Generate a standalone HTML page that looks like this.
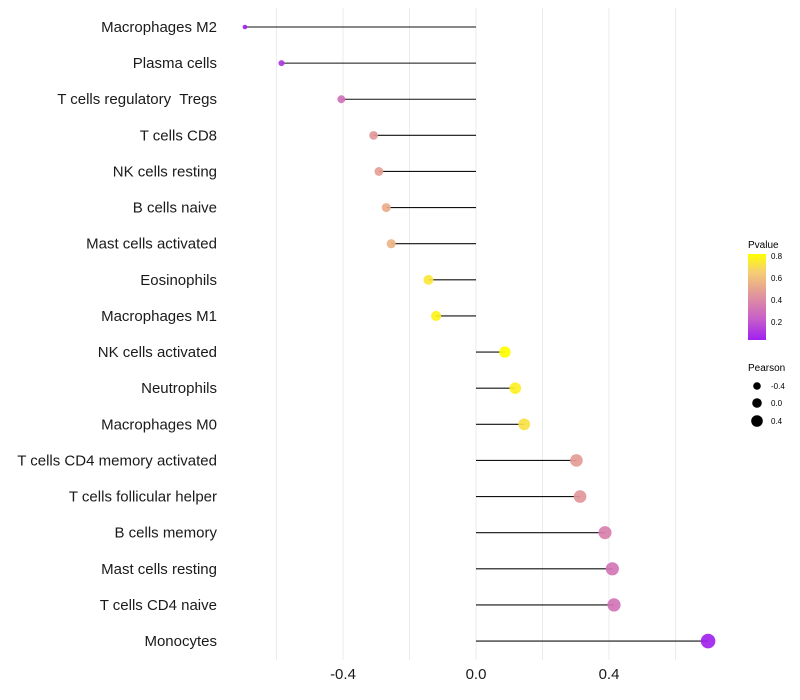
<!DOCTYPE html>
<html><head><meta charset="utf-8"><style>
html,body{margin:0;padding:0;background:#fff;width:800px;height:700px;overflow:hidden}
text{font-family:"Liberation Sans",sans-serif;white-space:pre}
</style></head><body>
<svg id="chart" width="800" height="700">
<g id="grid"></g>
<g id="stems"></g>
<g id="points"></g>
<g id="ylabels"></g>
<g id="xlabels"></g>
<g>
<defs><linearGradient id="pg" x1="0" y1="1" x2="0" y2="0">
<stop offset="0" stop-color="#A020F0"/><stop offset="0.25" stop-color="#C760C8"/><stop offset="0.5" stop-color="#E090A0"/><stop offset="0.8" stop-color="#F6D070"/><stop offset="1" stop-color="#FFFF00"/></linearGradient></defs>
<text x="748" y="248" font-size="10">Pvalue</text>
<rect x="748" y="254" width="18" height="86" fill="url(#pg)"/>
<text x="771" y="259" font-size="8">0.8</text>
<text x="771" y="281" font-size="8">0.6</text>
<text x="771" y="303" font-size="8">0.4</text>
<text x="771" y="325" font-size="8">0.2</text>
</g>
<g>
<text x="748" y="371" font-size="10">Pearson</text>
<circle cx="757" cy="386" r="3.8" fill="#000"/>
<circle cx="757" cy="403" r="4.8" fill="#000"/>
<circle cx="757" cy="421" r="5.8" fill="#000"/>
<text x="771" y="389" font-size="8">-0.4</text>
<text x="771" y="406" font-size="8">0.0</text>
<text x="771" y="424" font-size="8">0.4</text>
</g>
</svg>
<script>
const categories=["Macrophages M2","Plasma cells","T cells regulatory  Tregs","T cells CD8","NK cells resting","B cells naive","Mast cells activated","Eosinophils","Macrophages M1","NK cells activated","Neutrophils","Macrophages M0","T cells CD4 memory activated","T cells follicular helper","B cells memory","Mast cells resting","T cells CD4 naive","Monocytes"];
const pearson=[-0.695,-0.585,-0.405,-0.308,-0.292,-0.27,-0.255,-0.143,-0.12,0.087,0.118,0.145,0.302,0.313,0.388,0.41,0.415,0.698];
const pvalues=[0.03,0.1,0.3,0.46,0.48,0.53,0.56,0.74,0.78,0.82,0.77,0.72,0.47,0.45,0.36,0.32,0.31,0.04];
const xTicks=[-0.4,0.0,0.4];
const xGrid=[-0.6,-0.4,-0.2,0,0.2,0.4,0.6];
const NS="http://www.w3.org/2000/svg";
const x=v=>476+v*332.5;
const y=i=>27+i*36.12;
const rad=v=>0.3+Math.sqrt(Math.max(2,26.45+32.3*v));
const stops=[[0,[160,32,240]],[0.25,[199,96,200]],[0.5,[224,144,160]],[0.8,[246,208,112]],[1,[255,255,0]]];
function col(p){let t=Math.max(0,Math.min(1,(p-0.03)/0.79));
 for(let k=1;k<stops.length;k++){if(t<=stops[k][0]){const [t0,a]=stops[k-1],[t1,b]=stops[k];const u=(t-t0)/(t1-t0);
 return 'rgb('+a.map((c,j)=>Math.round(c+(b[j]-c)*u))+')';}}
 return 'rgb(255,255,0)';}
function mk(tag,attrs,parent){const e=document.createElementNS(NS,tag);for(const k in attrs)e.setAttribute(k,attrs[k]);document.getElementById(parent).appendChild(e);return e;}
xGrid.forEach(v=>{const e=mk('line',{x1:x(v),x2:x(v),y1:8,y2:660,stroke:'#ebebeb','stroke-width':1},'grid');

});
categories.forEach((c,i)=>{
 const s=mk('line',{x1:x(0),x2:x(pearson[i]),y1:y(i),y2:y(i),stroke:'#111','stroke-width':1.1},'stems');
 
 
 const p=mk('circle',{cx:x(pearson[i]),cy:y(i),r:rad(pearson[i]),fill:col(pvalues[i]),'fill-opacity':0.92},'points');
 
 
 const t=mk('text',{x:217,y:y(i)+5,'text-anchor':'end','font-size':15,fill:'#1a1a1a'},'ylabels');
 t.textContent=c;
 
 
});
xTicks.forEach(v=>{const t=mk('text',{x:x(v),y:679,'text-anchor':'middle','font-size':15,fill:'#1a1a1a'},'xlabels');
t.textContent=v.toFixed(1);

});
</script>
</body></html>
